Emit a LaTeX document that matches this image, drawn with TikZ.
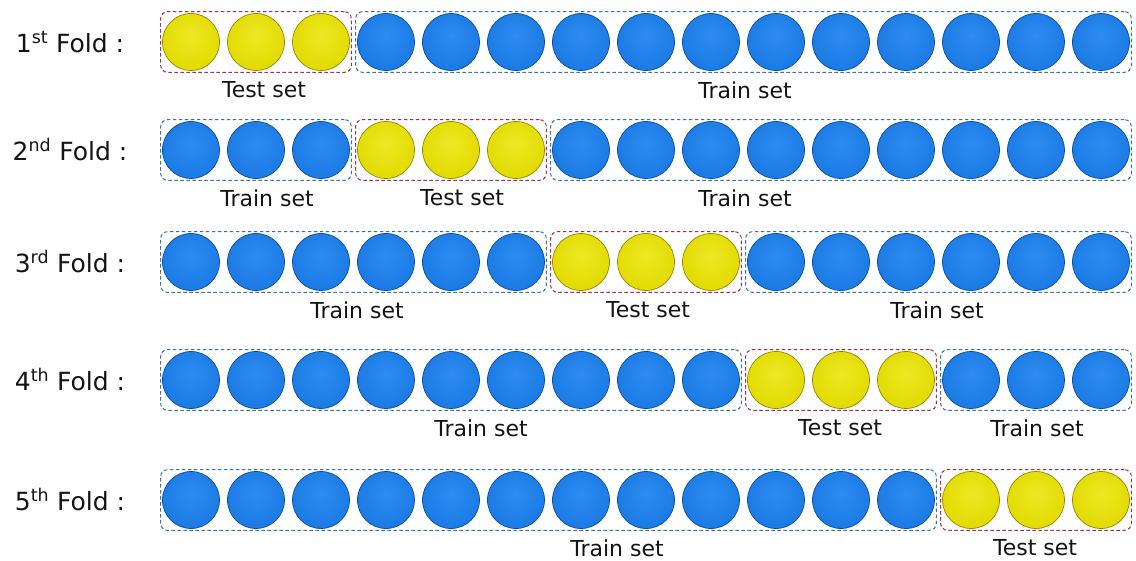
\documentclass[tikz,border=0pt]{standalone}
\usepackage{fontspec}
\setmainfont{DejaVu Sans}
\usepackage{xcolor}
\usepackage{tikz}
\usetikzlibrary{fit}

\definecolor{ballblueA}{HTML}{2E8CF0}
\definecolor{ballblueB}{HTML}{1A7AE4}
\definecolor{ballblueC}{HTML}{0C4C9E}
\definecolor{ballyelA}{HTML}{EDE826}
\definecolor{ballyelB}{HTML}{E2DA00}
\definecolor{ballyelC}{HTML}{948700}
\definecolor{testline}{HTML}{A82C46}
\definecolor{trainline}{HTML}{33779F}
\definecolor{txtgray}{HTML}{141414}

\pgfdeclareradialshading{trainshade}{\pgfpoint{0bp}{6bp}}{color(0bp)=(ballblueA); color(28bp)=(ballblueB); color(45bp)=(ballblueB); color(53bp)=(ballblueC)}
\pgfdeclareradialshading{testshade}{\pgfpoint{0bp}{6bp}}{color(0bp)=(ballyelA); color(28bp)=(ballyelB); color(45bp)=(ballyelB); color(53bp)=(ballyelC)}

\begin{document}
\begin{tikzpicture}[x=1pt, y=-1pt,
  ball/.style={circle, minimum size=57pt, inner sep=0pt, line width=0.7pt},
  trainball/.style={ball, shading=trainshade, draw=ballblueC},
  testball/.style={ball, shading=testshade, draw=ballyelC},
  setbox/.style={rectangle, rounded corners=7pt, inner sep=1.5pt, dashed,
    dash pattern=on 3.5pt off 2.5pt, line width=1pt},
  testbox/.style={setbox, draw=testline},
  trainbox/.style={setbox, draw=trainline},
  setlabel/.style={font=\fontsize{22}{26}\selectfont, text=txtgray},
  foldlabel/.style={font=\fontsize{25}{30}\selectfont, text=txtgray}]
  \useasboundingbox (0,0) rectangle (1136,561);

  % fold names
  \foreach \r/\y/\s in {1/42/st, 2/150/nd, 3/262/rd, 4/380/th, 5/500/th}
    \node[foldlabel] (f\r) at (70,\y) {\r\textsuperscript{\s} Fold :};

  % balls, the three of the test set in yellow
  \foreach \r/\y/\t in {1/42/0, 2/150/3, 3/262/6, 4/380/9, 5/500/12}
    \foreach \i in {0,...,14} {
      \pgfmathtruncatemacro{\tst}{(\i>=\t)*(\i<\t+3)}
      \ifnum\tst=1 \def\bsty{testball}\else\def\bsty{trainball}\fi
      \node[\bsty] (c\r-\i) at ({191+65*\i},\y) {};
    }

  % dashed groups and their names
  \foreach \r/\y/\a/\b/\kind/\lx/\txt in {
      1/42/0/2/test/264/Test set, 1/42/3/14/train/745/Train set,
      2/150/0/2/train/267/Train set, 2/150/3/5/test/462/Test set, 2/150/6/14/train/745/Train set,
      3/262/0/5/train/357/Train set, 3/262/6/8/test/648/Test set, 3/262/9/14/train/937/Train set,
      4/380/0/8/train/481/Train set, 4/380/9/11/test/840/Test set, 4/380/12/14/train/1037/Train set,
      5/500/0/11/train/617/Train set, 5/500/12/14/test/1035/Test set} {
    \node[\kind box, fit=(c\r-\a)(c\r-\b)] (g\r-\a) {};
    \node[setlabel] (t\r-\a) at (\lx,\y+48) {\txt};
  }
\end{tikzpicture}
\end{document}
